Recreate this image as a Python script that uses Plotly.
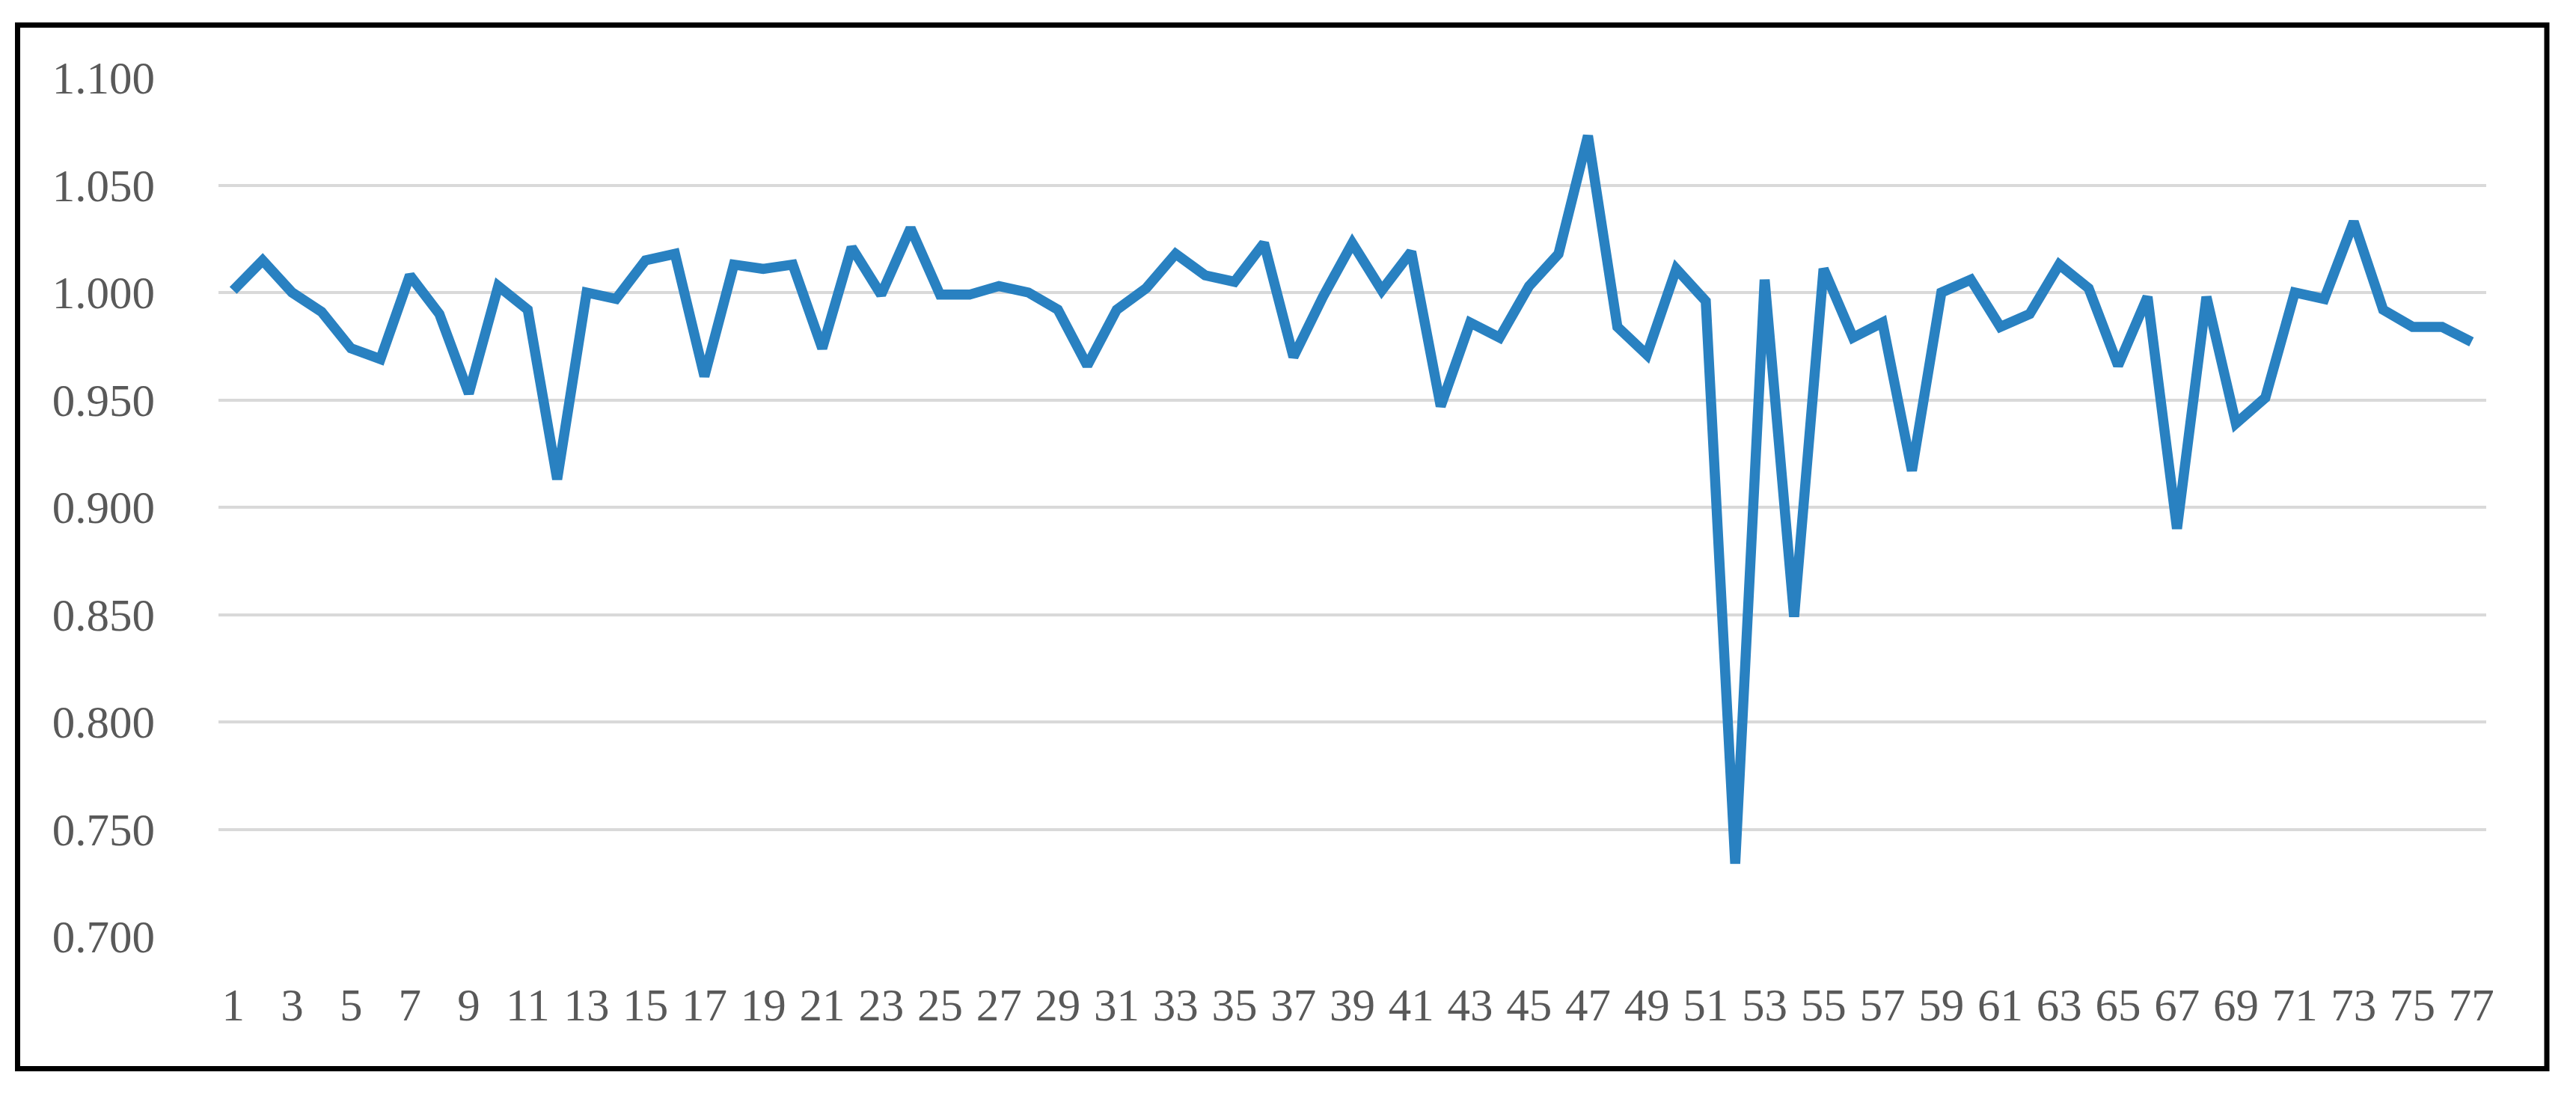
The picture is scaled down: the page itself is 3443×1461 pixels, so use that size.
import plotly.graph_objects as go

# ---- data ----
categories = list(range(1, 78))
values = [
    1.001, 1.015, 1.000, 0.991, 0.974, 0.969, 1.008, 0.990, 0.953, 1.003,
    0.992, 0.913, 1.000, 0.997, 1.015, 1.018, 0.961, 1.013, 1.011, 1.013,
    0.974, 1.021, 0.999, 1.030, 0.999, 0.999, 1.003, 1.000, 0.992, 0.966,
    0.992, 1.002, 1.018, 1.008, 1.005, 1.023, 0.970, 0.998, 1.023, 1.001,
    1.019, 0.947, 0.986, 0.979, 1.003, 1.018, 1.073, 0.984, 0.971, 1.011,
    0.996, 0.734, 1.006, 0.849, 1.011, 0.979, 0.986, 0.917, 1.000, 1.006,
    0.984, 0.990, 1.013, 1.002, 0.966, 0.998, 0.890, 0.998, 0.939, 0.951,
    1.000, 0.997, 1.033, 0.992, 0.984, 0.984, 0.977,
]
x_tick_vals = list(range(1, 78, 2))
x_tick_text = [str(v) for v in x_tick_vals]
y_tick_vals = [0.700, 0.750, 0.800, 0.850, 0.900, 0.950, 1.000, 1.050, 1.100]
y_tick_text = ["0.700", "0.750", "0.800", "0.850", "0.900", "0.950", "1.000", "1.050", "1.100"]

# ---- layout geometry (pixels) ----
W, H = 3443, 1461
L, R, T, B = 292, 120, 104, 209
pw, ph = W - L - R, H - T - B

def px_x(p):
    return (p - L) / pw

def px_y(p):
    return (H - B - p) / ph

FONT = "Liberation Serif"
TXT = "#595959"

fig = go.Figure()
fig.add_trace(go.Scatter(
    x=categories, y=values, mode="lines",
    line=dict(color="#2981c1", width=13.5),
    showlegend=False,
))

fig.update_layout(
    width=W, height=H, autosize=False,
    margin=dict(l=L, r=R, t=T, b=B, pad=0),
    paper_bgcolor="white", plot_bgcolor="white",
    font=dict(family=FONT, size=61, color=TXT),
    xaxis=dict(
        range=[0.5, 77.5], tickmode="array", tickvals=x_tick_vals, ticktext=x_tick_text,
        showgrid=False, zeroline=False, showline=False, ticks="",
        ticklabelstandoff=50, tickangle=0,
        tickfont=dict(family=FONT, size=61, color=TXT),
    ),
    yaxis=dict(
        range=[0.7, 1.1], tickmode="array", tickvals=y_tick_vals, ticktext=y_tick_text,
        showgrid=True, gridcolor="#d9d9d9", gridwidth=4, zeroline=False, showline=False,
        ticks="", ticklabelstandoff=84,
        tickfont=dict(family=FONT, size=61, color=TXT),
    ),
    shapes=[dict(
        type="rect", xref="paper", yref="paper",
        x0=px_x(23.5), x1=px_x(3404), y0=px_y(1428.5), y1=px_y(33.5),
        line=dict(color="black", width=7), fillcolor="rgba(0,0,0,0)", layer="above",
    )],
)

fig.write_html(
    "out.html",
    config={"displayModeBar": False},
    post_script="document.body.style.margin='0';document.body.style.overflow='hidden';",
)
